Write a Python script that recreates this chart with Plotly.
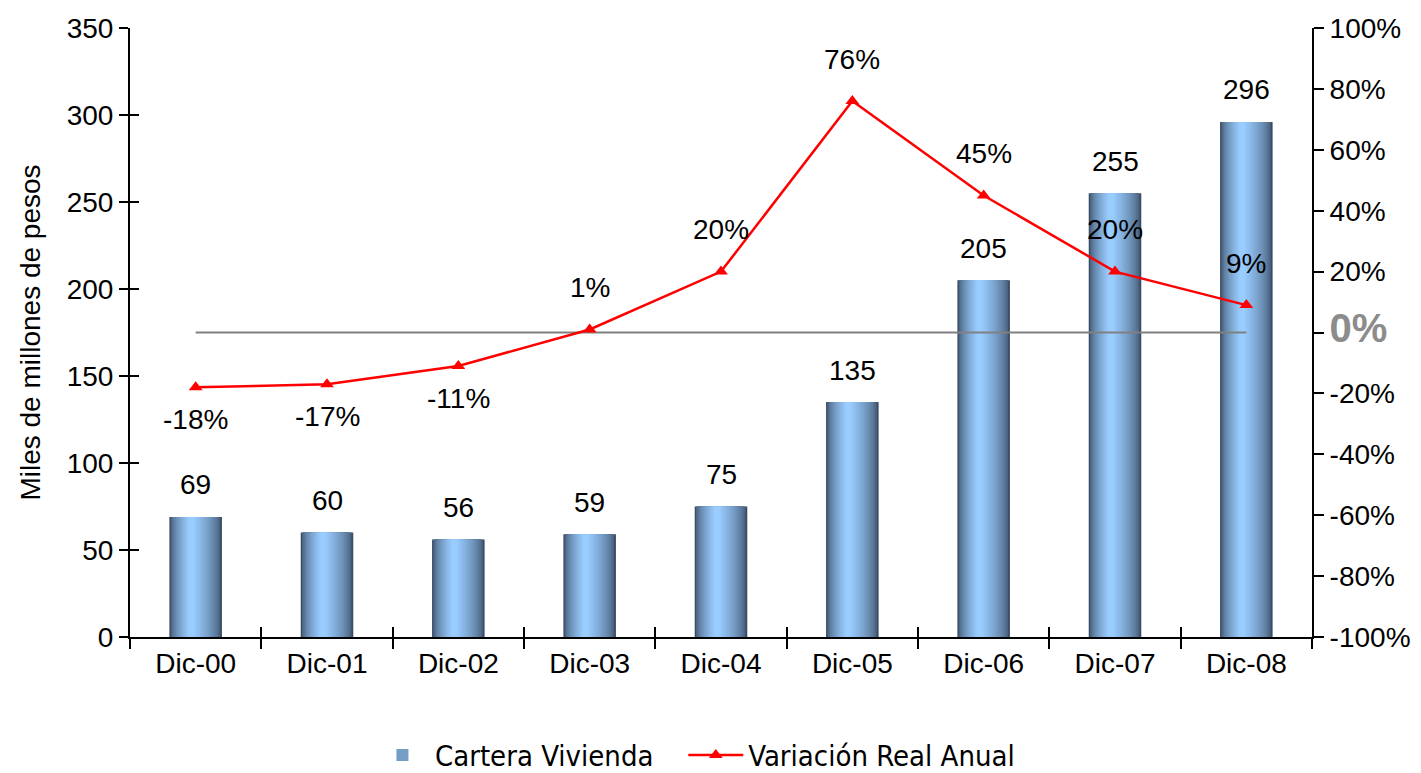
import plotly.graph_objects as go

categories = ["Dic-00", "Dic-01", "Dic-02", "Dic-03", "Dic-04", "Dic-05", "Dic-06", "Dic-07", "Dic-08"]
cartera = [69, 60, 56, 59, 75, 135, 205, 255, 296]
variacion = [-18, -17, -11, 1, 20, 76, 45, 20, 9]
cero = [0, 0, 0, 0, 0, 0, 0, 0, 0]
right_ticks = [-100, -80, -60, -40, -20, 0, 20, 40, 60, 80, 100]

FONT = "Liberation Sans, Arial, sans-serif"
LEG_FONT = "DejaVu Sans Condensed, DejaVu Sans, sans-serif"
FS = 28

def mix(c1, c2, t):
    return "rgb(%d,%d,%d)" % tuple(round(a + (b - a) * t) for a, b in zip(c1, c2))

dark = (58, 76, 100)
light = (153, 204, 255)

fig = go.Figure()

W = 0.40
n = 16
shift = 0.035
for k in range(n):
    t = k / n              # 0 = outermost
    w = W * (1 - t) + 0.02 * t
    frac = (k / (n - 1)) ** 0.6
    col = mix(dark, light, frac)
    off = -w / 2 - shift * (1 - w / W)
    fig.add_trace(go.Bar(
        x=categories, y=cartera, width=w, offset=off,
        marker=dict(color=col, line=dict(width=0)),
        name="Cartera Vivienda&nbsp;&nbsp;&nbsp;",
        showlegend=(k == 7),
        legendrank=1,
        hoverinfo="skip" if k else None,
    ))

fig.add_trace(go.Scatter(
    x=categories, y=cero, yaxis="y2", mode="lines",
    line=dict(color="#808080", width=2), showlegend=False,
))

fig.add_trace(go.Scatter(
    x=categories, y=variacion, yaxis="y2", mode="lines+markers",
    name="Variación Real Anual", legendrank=2,
    line=dict(color="#ff0000", width=2.5),
    marker=dict(symbol="triangle-up", size=12, color="#ff0000"),
))

for c, v in zip(categories, cartera):
    fig.add_annotation(
        x=c, y=v, xref="x", yref="y", text=str(v), showarrow=False,
        yshift=32, font=dict(family=FONT, size=FS, color="black"),
    )

for c, v in zip(categories, variacion):
    fig.add_annotation(
        x=c, y=v, xref="x", yref="y2", text=f"{v}%", showarrow=False,
        yshift=42 if v >= 0 else -32,
        font=dict(family=FONT, size=FS, color="black"),
    )

ticktext = [f"{v}%" for v in right_ticks]
ticktext[right_ticks.index(0)] = "<b><span style='color:#8c8c8c;font-size:40px'>0%</span></b>"

fig.update_layout(
    width=1421, height=773,
    margin=dict(l=130, r=109, t=28, b=136, autoexpand=False),
    paper_bgcolor="white", plot_bgcolor="white",
    barmode="overlay",
    font=dict(family=FONT, size=FS, color="black"),
    xaxis=dict(
        type="category", categoryorder="array", categoryarray=categories,
        range=[-0.5, 8.5], automargin=False,
        showline=True, linecolor="black", linewidth=2,
        ticks="outside", ticklen=10, tickwidth=2, tickcolor="black",
        tickson="boundaries", showgrid=False,
        tickfont=dict(family=FONT, size=FS),
    ),
    xaxis3=dict(
        overlaying="x", anchor="y", range=[-0.5, 8.5], automargin=False,
        tickmode="array", tickvals=[i - 0.5 for i in range(10)],
        ticks="inside", ticklen=10, tickwidth=2, tickcolor="black",
        showticklabels=False, showgrid=False, showline=False, zeroline=False,
    ),
    yaxis=dict(
        range=[0, 350], dtick=50, tick0=0, automargin=False,
        showline=True, linecolor="black", linewidth=2,
        ticks="outside", ticklen=9, tickwidth=2, tickcolor="black",
        showgrid=False, zeroline=False,
        tickfont=dict(family=FONT, size=FS),
        title=dict(text="Miles de millones de pesos", font=dict(family=FONT, size=FS), standoff=18),
    ),
    yaxis3=dict(
        overlaying="y", anchor="x", side="left", range=[0, 350], automargin=False,
        tickmode="linear", dtick=50, tick0=0,
        ticks="inside", ticklen=9, tickwidth=2, tickcolor="black",
        showticklabels=False, showgrid=False, showline=False, zeroline=False,
    ),
    yaxis2=dict(
        overlaying="y", side="right", anchor="x", range=[-100, 100], automargin=False,
        tickmode="array", tickvals=right_ticks, ticktext=ticktext,
        showline=True, linecolor="black", linewidth=2,
        ticks="outside", ticklen=10, tickwidth=2, tickcolor="black",
        showgrid=False, zeroline=False,
        tickfont=dict(family=FONT, size=FS),
    ),
    legend=dict(
        orientation="h", x=0.203, xanchor="left", y=-0.152, yanchor="top",
        font=dict(family=LEG_FONT, size=29, color="black"),
        traceorder="normal", itemwidth=55,
    ),
    showlegend=True,
)

fig.add_trace(go.Scatter(x=[None], y=[None], xaxis="x3", yaxis="y3", showlegend=False, hoverinfo="skip"))

fig.write_html(
    "out.html",
    config={"displayModeBar": False},
    post_script="document.body.style.margin='0';document.body.style.padding='0';document.body.style.overflow='hidden';",
)
